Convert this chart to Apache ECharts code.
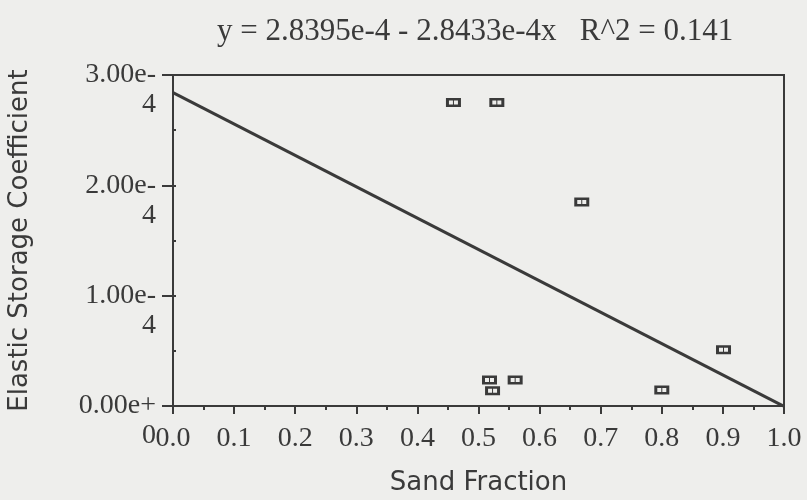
<!DOCTYPE html>
<html>
<head>
<meta charset="utf-8">
<script src="https://cdn.jsdelivr.net/npm/echarts@6/dist/echarts.min.js"></script>
<style>
  html, body { margin: 0; padding: 0; background: #eeeeec; }
  #chart { width: 807px; height: 500px; }
</style>
</head>
<body>
<div id="chart"></div>
<script>
// measured points
const sandFraction = [0.459, 0.530, 0.669, 0.901, 0.518, 0.523, 0.560, 0.800];
const storageCoef = [2.75e-4, 2.75e-4, 1.85e-4, 0.51e-4, 0.236e-4, 0.139e-4, 0.236e-4, 0.145e-4];

// fit from the title
const intercept = 2.8395e-4;
const slope = -2.8433e-4;
const fitX = [0, 1];
const titleText = 'y = 2.8395e-4 - 2.8433e-4x   R^2 = 0.141';

const ink = '#3a3a3a';
const chart = echarts.init(document.getElementById('chart'));

const points = sandFraction.map((x, i) => [x, storageCoef[i]]);
const fitLine = fitX.map(x => [x, intercept + slope * x]);

// little box marker with two holes
const boxSymbol = 'path://M0,0L15,0L15,9L0,9Z M3,2.5L3,6.5L7,6.5L7,2.5Z M8,2.5L8,6.5L12,6.5L12,2.5Z';

let option = {
  backgroundColor: '#eeeeec',
  animation: false,
  title: {
    text: titleText,
    left: 212,
    top: 11,
    textStyle: { fontFamily: 'Liberation Serif', fontSize: 31, fontWeight: 'normal', color: ink }
  },
  grid: {
    left: 173, right: 23, top: 75, bottom: 94,
    outerBoundsMode: 'none',
    show: true,
    borderColor: ink,
    borderWidth: 2
  },
  xAxis: {
    type: 'value',
    min: 0, max: 1, interval: 0.1,
    name: 'Sand Fraction',
    nameLocation: 'middle',
    nameGap: 64,
    nameTextStyle: { fontFamily: 'DejaVu Sans', fontSize: 26, color: ink },
    axisLine: { lineStyle: { color: ink, width: 2 } },
    axisTick: { length: 8, lineStyle: { color: ink, width: 2 } },
    minorTick: { show: true, splitNumber: 2, length: 4, lineStyle: { color: ink, width: 2 } },
    splitLine: { show: false },
    axisLabel: {
      margin: 19,
      fontFamily: 'Liberation Serif', fontSize: 28, color: ink,
      formatter: v => v.toFixed(1)
    }
  },
  yAxis: [{
    type: 'value',
    min: 0, max: 3e-4, interval: 1e-4,
    name: 'Elastic Storage Coefficient',
    nameLocation: 'middle',
    nameGap: 140,
    nameTextStyle: { fontFamily: 'DejaVu Sans', fontSize: 26, color: ink },
    axisLine: { lineStyle: { color: ink, width: 2 } },
    axisTick: { length: 11, lineStyle: { color: ink, width: 2 } },
    splitLine: { show: false },
    axisLabel: {
      margin: 17,
      fontFamily: 'Liberation Serif', fontSize: 28, color: ink,
      lineHeight: 30,
      align: 'right',
      formatter: v => {
        const s = v.toExponential(2);
        const k = s.indexOf('e') + 2;
        return ' \n' + s.slice(0, k) + '\n' + s.slice(k);
      }
    }
  }, {
    // inner minor ticks
    type: 'value',
    position: 'left',
    min: 0, max: 3e-4, interval: 1e-4,
    axisLine: { show: false },
    axisLabel: { show: false },
    splitLine: { show: false },
    axisTick: { inside: true, length: 3, lineStyle: { color: ink, width: 2 } },
    minorTick: { show: true, splitNumber: 2, length: 3, lineStyle: { color: ink, width: 2 } }
  }],
  series: [
    {
      type: 'line',
      data: fitLine,
      symbol: 'none',
      lineStyle: { color: ink, width: 3 },
      z: 2
    },
    {
      type: 'scatter',
      data: points,
      symbol: boxSymbol,
      symbolSize: [15, 9],
      itemStyle: { color: ink, opacity: 1 },
      z: 3
    }
  ]
};
chart.setOption(option);
</script>
</body>
</html>
